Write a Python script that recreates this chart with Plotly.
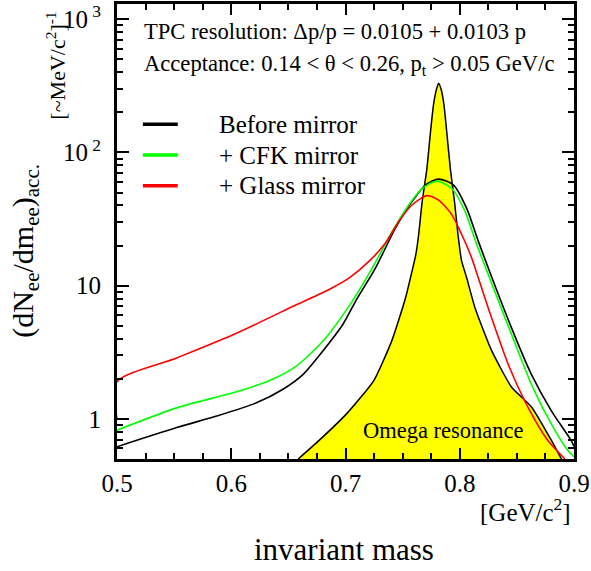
import plotly.graph_objects as go

# ---- data ----
mass_before = [0.500, 0.5523, 0.5871, 0.622, 0.6453, 0.6627, 0.680, 0.6975, 0.7089, 0.7263,
               0.7437, 0.7582, 0.7698, 0.7815, 0.7946, 0.8061, 0.8163, 0.8454, 0.8628, 0.8802,
               0.8977, 0.900]
yield_before = [0.618, 0.861, 1.05, 1.32, 1.67, 2.15, 3.22, 5.09, 7.66, 13.6,
                27.0, 42.7, 56.9, 63.0, 56.9, 38.0, 21.5, 4.8, 2.15, 1.15,
                0.685, 0.62]

mass_cfk = [0.500, 0.5523, 0.6046, 0.6336, 0.6569, 0.6801, 0.706, 0.7235, 0.7409, 0.7553,
            0.767, 0.780, 0.7931, 0.8047, 0.8149, 0.8454, 0.8628, 0.8802, 0.8948, 0.900]
yield_cfk = [0.823, 1.21, 1.60, 1.94, 2.49, 3.82, 7.66, 13.6, 25.5, 40.3,
             53.6, 60.9, 53.6, 35.9, 20.3, 4.29, 1.81, 0.913, 0.577, 0.52]

mass_glass = [0.500, 0.500, 0.5523, 0.6046, 0.6569, 0.6856, 0.703, 0.7205, 0.735, 0.7466,
              0.7582, 0.7713, 0.7815, 0.7931, 0.8018, 0.8105, 0.8163, 0.825, 0.8425, 0.860,
              0.8773, 0.892]
yield_glass = [1.0, 1.90, 2.87, 4.40, 7.18, 9.37, 11.4, 15.2, 20.9, 30.3,
               40.3, 47.4, 43.9, 34.0, 24.1, 16.1, 11.4, 6.77, 2.56, 1.21,
               0.685, 0.5]

mass_omega = [0.6586, 0.6769, 0.7013, 0.7248, 0.7405, 0.7524, 0.7582, 0.7615, 0.764, 0.767,
              0.7712, 0.7743, 0.7771, 0.7795, 0.7815, 0.7838, 0.7861, 0.7887, 0.7918, 0.7955,
              0.7985, 0.8015, 0.806, 0.8134, 0.8279, 0.8454, 0.8628, 0.8802, 0.889]
yield_omega = [0.5, 0.69, 1.10, 1.94, 3.85, 8.0, 12.8, 17.0, 24.0, 42.0,
               75.0, 140.0, 230.0, 295.0, 330.0, 295.0, 230.0, 140.0, 75.0, 42.0,
               24.0, 15.5, 11.5, 6.8, 3.25, 1.73, 1.23, 0.69, 0.5]

series_names = ["Before mirror", "+ CFK mirror", "+ Glass mirror"]
series_colors = ["#000000", "#00ff00", "#ff0000"]

y_tickvals = [1, 10, 100, 1000]
y_ticktext = ["1", "10", "10<sup> 2</sup>", "10<sup> 3</sup>"]
x_tickvals = [0.5, 0.6, 0.7, 0.8, 0.9]
x_ticktext = ["0.5", "0.6", "0.7", "0.8", "0.9"]

FONT = "Times New Roman, Liberation Serif, serif"

fig = go.Figure()

fig.add_trace(go.Scatter(
    x=mass_omega, y=yield_omega, mode="lines", fill="toself", fillcolor="#ffff00",
    line=dict(color="black", width=1.5, shape="spline", smoothing=0.5),
    name="Omega resonance", showlegend=False, hoverinfo="skip"))

for xs, ys, nm, col in [(mass_before, yield_before, series_names[0], series_colors[0]),
                        (mass_cfk, yield_cfk, series_names[1], series_colors[1]),
                        (mass_glass, yield_glass, series_names[2], series_colors[2])]:
    fig.add_trace(go.Scatter(x=xs, y=ys, mode="lines", name=nm,
                             line=dict(color=col, width=1.6, shape="spline", smoothing=0.7),
                             showlegend=False))

# manual legend (line samples + labels)
leg_y = [0.7358, 0.668, 0.6004]
for yy, nm, col in zip(leg_y, series_names, series_colors):
    fig.add_shape(type="line", xref="paper", yref="paper", x0=0.0566, x1=0.1329, y0=yy, y1=yy,
                  line=dict(color=col, width=3.5))
    fig.add_annotation(xref="paper", yref="paper", x=0.2179, y=yy, text=nm, showarrow=False,
                       xanchor="left", yanchor="middle", font=dict(family=FONT, size=25, color="black"))

fig.add_annotation(xref="paper", yref="paper", x=0.0545, y=0.939,
                   text="TPC resolution: \u0394p/p = 0.0105 + 0.0103 p", showarrow=False,
                   xanchor="left", yanchor="middle", font=dict(family=FONT, size=22.6, color="black"))
fig.add_annotation(xref="paper", yref="paper", x=0.0545, y=0.867,
                   text="Acceptance: 0.14 &lt; \u03b8 &lt; 0.26, p<sub>t</sub> &gt; 0.05 GeV/c",
                   showarrow=False, xanchor="left", yanchor="middle",
                   font=dict(family=FONT, size=22.6, color="black"))
fig.add_annotation(xref="paper", yref="paper", x=0.7146, y=0.0633, text="Omega resonance",
                   showarrow=False, xanchor="center", yanchor="middle",
                   font=dict(family=FONT, size=22.5, color="black"))

# axis titles / units
fig.add_annotation(xref="paper", yref="paper", x=0.998, y=-0.111, text="[GeV/c<sup>2</sup>]",
                   showarrow=False, xanchor="right", yanchor="middle",
                   font=dict(family=FONT, size=25, color="black"))
fig.add_annotation(xref="paper", yref="paper", x=0.497, y=-0.199, text="invariant mass",
                   showarrow=False, xanchor="center", yanchor="middle",
                   font=dict(family=FONT, size=31, color="black"))
fig.add_annotation(xref="paper", yref="paper", x=-0.203, y=0.458,
                   text="(dN<sub>ee</sub>/dm<sub>ee</sub>)<sub>acc.</sub>", textangle=-90,
                   showarrow=False, xanchor="center", yanchor="middle",
                   font=dict(family=FONT, size=30, color="black"))
fig.add_annotation(xref="paper", yref="paper", x=-0.133, y=0.865,
                   text="[~MeV/c<sup>2</sup>]<sup>-1</sup>", textangle=-90,
                   showarrow=False, xanchor="center", yanchor="middle",
                   font=dict(family=FONT, size=22, color="black"))

y_minor = [m * 10 ** e for e in (-1, 0, 1, 2, 3) for m in range(2, 10)]

fig.update_layout(
    width=591, height=571,
    margin=dict(l=117, r=15, t=1, b=112),
    paper_bgcolor="white", plot_bgcolor="white",
    showlegend=False,
    font=dict(family=FONT, color="black"),
    xaxis=dict(range=[0.5, 0.9], tickmode="array", tickvals=x_tickvals, ticktext=x_ticktext,
               ticks="inside", ticklen=11, tickwidth=1.8, tickcolor="black",
               showline=True, linewidth=3, linecolor="black", mirror="ticks",
               showgrid=False, zeroline=False, ticklabeloverflow="allow",
               tickfont=dict(family=FONT, size=25, color="black"),
               minor=dict(dtick=0.025, ticks="inside", ticklen=6, tickwidth=1.5,
                          tickcolor="black", showgrid=False)),
    yaxis=dict(type="log", range=[-0.301, 3.114], tickmode="array", tickvals=y_tickvals,
               ticktext=y_ticktext,
               ticks="inside", ticklen=12, tickwidth=1.8, tickcolor="black",
               showline=True, linewidth=3, linecolor="black", mirror="ticks",
               showgrid=False, zeroline=False, ticklabelstandoff=8,
               tickfont=dict(family=FONT, size=25, color="black"),
               minor=dict(tickmode="array", tickvals=y_minor, ticks="inside", ticklen=6,
                          tickwidth=1.5, tickcolor="black", showgrid=False)),
)

fig.write_html("out.html", config={"displayModeBar": False},
               post_script="document.body.style.margin='0';")
